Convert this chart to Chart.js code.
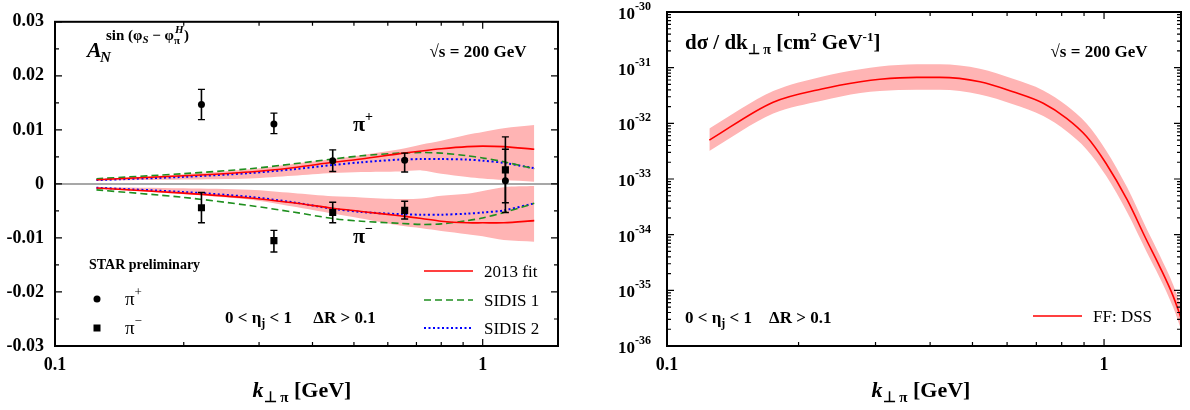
<!DOCTYPE html>
<html>
<head>
<meta charset="utf-8">
<script src="https://cdn.jsdelivr.net/npm/chart.js@4.4.1/dist/chart.umd.min.js"></script>
<style>
  html, body { margin: 0; padding: 0; background: #fff; }
  #wrap { position: relative; width: 1190px; height: 410px; }
  canvas { position: absolute; top: 0; }
</style>
</head>
<body>
<div id="wrap">
  <canvas id="left" width="595" height="410" style="left:0"></canvas>
  <canvas id="right" width="595" height="410" style="left:595px"></canvas>
</div>
<script>
const F = "'Liberation Serif', 'Times New Roman', serif";

// x ticks shared by both panels (log axis)
const kTicks = [0.1, 0.2, 0.3, 0.4, 0.5, 0.6, 0.7, 0.8, 0.9, 1];
const asymTicks = [-0.03, -0.025, -0.02, -0.015, -0.01, -0.005, 0, 0.005, 0.01, 0.015, 0.02, 0.025, 0.03];

// left panel: model curves
const kCurve      = [0.125, 0.2, 0.285, 0.36, 0.446, 0.52, 0.64, 0.72, 0.8, 0.92, 1.0, 1.12, 1.32];
const fitPlus     = [0.00077, 0.0015, 0.0022, 0.0030, 0.0040, 0.0046, 0.0056, 0.0061, 0.0065, 0.0069, 0.0070, 0.0069, 0.0064];
const sidis1Plus  = [0.00095, 0.0019, 0.0028, 0.0037, 0.0046, 0.0052, 0.0057, 0.0058, 0.0057, 0.0052, 0.0048, 0.0041, 0.0028];
const sidis2Plus  = [0.0007, 0.0013, 0.0020, 0.0027, 0.0035, 0.0040, 0.0045, 0.0046, 0.0046, 0.0045, 0.0043, 0.0039, 0.0029];
const fitMinus    = [-0.00077, -0.0017, -0.0026, -0.0035, -0.0045, -0.0051, -0.0059, -0.0064, -0.0069, -0.0072, -0.0072, -0.0072, -0.0068];
const sidis1Minus = [-0.0011, -0.0025, -0.0040, -0.0052, -0.0064, -0.0069, -0.0073, -0.0075, -0.0074, -0.0068, -0.0063, -0.0053, -0.0036];
const sidis2Minus = [-0.0007, -0.0015, -0.0024, -0.0034, -0.0046, -0.0052, -0.0056, -0.0057, -0.0057, -0.0055, -0.0053, -0.0049, -0.0036];
const bandPlusHi  = [0.0009, 0.0018, 0.0027, 0.0037, 0.0046, 0.0053, 0.0064, 0.0073, 0.0080, 0.0091, 0.0096, 0.0103, 0.0109];
const bandPlusLo  = [0.0006, 0.0008, 0.0010, 0.0015, 0.0020, 0.0022, 0.0023, 0.0025, 0.0019, 0.0013, 0.0010, 0.0007, 0.0004];
const bandMinusHi = [-0.0006, -0.0008, -0.0011, -0.0017, -0.0023, -0.0025, -0.0028, -0.0027, -0.0022, -0.0018, -0.0013, -0.0006, -0.0004];
const bandMinusLo = [-0.0009, -0.0019, -0.0029, -0.0042, -0.0055, -0.0064, -0.0077, -0.0082, -0.0087, -0.0093, -0.0097, -0.0104, -0.0107];

// left panel: STAR preliminary points
const kStar    = [0.22, 0.325, 0.446, 0.657, 1.13];
const aPlus    = [0.0147, 0.0111, 0.0043, 0.0044, 0.0006];
const aPlusLo  = [0.0119, 0.0093, 0.0023, 0.0022, -0.0053];
const aPlusHi  = [0.0175, 0.0131, 0.0063, 0.0057, 0.0087];
const aMinus   = [-0.0044, -0.0105, -0.0053, -0.0049, 0.0026];
const aMinusLo = [-0.0072, -0.0126, -0.0072, -0.0065, -0.0035];
const aMinusHi = [-0.0016, -0.0086, -0.0034, -0.0032, 0.0064];

// right panel: cross section with DSS fragmentation functions
const kXsec   = [0.125, 0.175, 0.226, 0.277, 0.307, 0.373, 0.421, 0.52, 0.619, 0.726, 0.821, 0.912, 1.01, 1.13, 1.25, 1.34, 1.44, 1.5];
const xsecDSS = [5.0e-33, 2.4e-32, 4.15e-32, 5.6e-32, 6.2e-32, 6.7e-32, 6.7e-32, 5.6e-32, 3.7e-32, 2.3e-32, 1.23e-32, 5.8e-33, 1.92e-33, 4.2e-34, 8.1e-35, 2.7e-35, 7.8e-36, 3.2e-36];
const xsecHi  = [8.1e-33, 3.8e-32, 6.9e-32, 9.4e-32, 1.05e-31, 1.15e-31, 1.15e-31, 9.6e-32, 6.3e-32, 3.9e-32, 2.1e-32, 9.9e-33, 3.3e-33, 7.0e-34, 1.3e-34, 4.3e-35, 1.25e-35, 5.2e-36];
const xsecLo  = [3.2e-33, 1.5e-32, 2.55e-32, 3.5e-32, 3.8e-32, 4.0e-32, 4.0e-32, 3.3e-32, 2.2e-32, 1.35e-32, 7.2e-33, 3.4e-33, 1.15e-33, 2.5e-34, 5.0e-35, 1.7e-35, 4.9e-36, 2.0e-36];

const pts = (xs, ys) => xs.map((x, i) => ({ x: x, y: ys[i] }));
const errPts = (xs, lo, hi) => xs.flatMap((x, i) => [{ x: x, y: lo[i] }, { x: x, y: hi[i] }, { x: x, y: null }]);

const RED = "#ff0000", GREEN = "#1f8f1f", BLUE = "#0000ff", BAND = "#ffb4b4";

// rich text: parts = [text, font, dy]
function rich(ctx, parts, x, y, align) {
  let w = 0;
  parts.forEach(p => { ctx.font = p[1]; w += ctx.measureText(p[0]).width; });
  let cx = align === "center" ? x - w / 2 : align === "right" ? x - w : x;
  ctx.textAlign = "left";
  ctx.textBaseline = "alphabetic";
  parts.forEach(p => {
    ctx.font = p[1];
    ctx.fillText(p[0], cx, y + (p[2] || 0));
    cx += ctx.measureText(p[0]).width;
  });
  return cx;
}

function frame(chart, xMarks, yMarks) {
  const { ctx, chartArea: a, scales } = chart;
  ctx.save();
  ctx.strokeStyle = "#000";
  ctx.lineWidth = 1.2;
  ctx.beginPath();
  xMarks.forEach(m => {
    const px = scales.x.getPixelForValue(m.v);
    const len = m.major ? 7 : 4;
    ctx.moveTo(px, a.bottom); ctx.lineTo(px, a.bottom - len);
    ctx.moveTo(px, a.top); ctx.lineTo(px, a.top + len);
  });
  yMarks.forEach(m => {
    const py = scales.y.getPixelForValue(m.v);
    const len = m.major ? 7 : 4;
    ctx.moveTo(a.left, py); ctx.lineTo(a.left + len, py);
    ctx.moveTo(a.right, py); ctx.lineTo(a.right - len, py);
  });
  ctx.stroke();
  ctx.lineWidth = 2;
  ctx.strokeRect(a.left, a.top, a.right - a.left, a.bottom - a.top);
  ctx.restore();
}

function legendLine(ctx, x1, x2, y, color, dash, width) {
  ctx.save();
  ctx.strokeStyle = color;
  ctx.lineWidth = width;
  ctx.setLineDash(dash);
  ctx.beginPath();
  ctx.moveTo(x1, y); ctx.lineTo(x2, y);
  ctx.stroke();
  ctx.restore();
}

function xTitle(ctx, x, y) {
  rich(ctx, [["k", "italic bold 22px " + F, 0], ["\u22A5 \u03C0", "bold 15px " + F, 5], [" [GeV]", "bold 22px " + F, 0]], x, y, "center");
}

const xMarks = kTicks.map(v => ({ v: v, major: v === 0.1 || v === 1 }));

const leftDecor = {
  id: "leftDecor",
  afterDraw(chart) {
    const ctx = chart.ctx;
    frame(chart, xMarks, asymTicks.map(v => ({ v: v, major: Math.abs(Math.round(v * 1000)) % 10 === 0 })));
    ctx.save();
    ctx.fillStyle = "#000";
    // A_N^{sin(phi_S - phi_pi^H)}
    rich(ctx, [["A", "italic bold 22px " + F, 0]], 87, 57);
    rich(ctx, [["N", "italic bold 15px " + F, 0]], 100, 62);
    let cx = rich(ctx, [["sin (\u03C6", "bold 15px " + F, 0], ["S", "italic bold 11px " + F, 3], [" \u2212 \u03C6", "bold 15px " + F, 0]], 106, 40);
    rich(ctx, [["\u03C0", "bold 11px " + F, 0]], cx, 44);
    rich(ctx, [["H", "italic bold 11px " + F, 0]], cx + 1, 33);
    rich(ctx, [[")", "bold 15px " + F, 0]], cx + 10, 40);
    rich(ctx, [["\u221As = 200 GeV", "bold 17px " + F, 0]], 478, 57, "center");
    // curve labels
    rich(ctx, [["\u03C0", "bold 22px " + F, 0], ["+", "bold 14px " + F, -10]], 353, 131);
    rich(ctx, [["\u03C0", "bold 22px " + F, 0], ["\u2212", "bold 14px " + F, -10]], 353, 243);
    // data legend
    rich(ctx, [["STAR preliminary", "bold 14px " + F, 0]], 89, 269);
    ctx.beginPath(); ctx.arc(97, 299, 3.5, 0, Math.PI * 2); ctx.fill();
    ctx.fillRect(93.5, 324.5, 7, 7);
    rich(ctx, [["\u03C0", "19px " + F, 0], ["+", "13px " + F, -9]], 125, 305);
    rich(ctx, [["\u03C0", "19px " + F, 0], ["\u2212", "13px " + F, -9]], 125, 334);
    rich(ctx, [["0 < \u03B7", "bold 17px " + F, 0], ["j", "bold 12px " + F, 4], [" < 1     \u0394R > 0.1", "bold 17px " + F, 0]], 225, 323);
    // model legend
    legendLine(ctx, 424, 473, 271, RED, [], 1.6);
    legendLine(ctx, 424, 473, 300, GREEN, [7, 4], 1.6);
    legendLine(ctx, 424, 473, 328, BLUE, [2, 2.5], 2);
    rich(ctx, [["2013 fit", "17px " + F, 0]], 484, 277);
    rich(ctx, [["SIDIS 1", "17px " + F, 0]], 484, 306);
    rich(ctx, [["SIDIS 2", "17px " + F, 0]], 484, 334);
    xTitle(ctx, 302, 397);
    ctx.restore();
  }
};

const decadeMarks = [];
for (let n = -36; n <= -31; n++) {
  for (let k = 1; k <= 9; k++) decadeMarks.push({ v: k * Math.pow(10, n), major: k === 1 });
}
decadeMarks.push({ v: 1e-30, major: true });

const rightDecor = {
  id: "rightDecor",
  afterDraw(chart) {
    const ctx = chart.ctx;
    frame(chart, xMarks, decadeMarks);
    ctx.save();
    ctx.fillStyle = "#000";
    const ys = chart.scales.y;
    for (let n = -36; n <= -30; n++) {
      const py = ys.getPixelForValue(Math.pow(10, n));
      rich(ctx, [["10", "bold 17px " + F, 0], [String(n), "bold 12px " + F, -9]], 56, py + 7, "right");
    }
    rich(ctx, [["d\u03C3 / dk", "bold 21px " + F, 0], ["\u22A5 \u03C0", "bold 14px " + F, 5], [" [cm", "bold 21px " + F, 0],
      ["2", "bold 13px " + F, -8], [" GeV", "bold 21px " + F, 0], ["-1", "bold 13px " + F, -8], ["]", "bold 21px " + F, 0]], 90, 49);
    rich(ctx, [["\u221As = 200 GeV", "bold 17px " + F, 0]], 504, 57, "center");
    rich(ctx, [["0 < \u03B7", "bold 17px " + F, 0], ["j", "bold 12px " + F, 4], [" < 1    \u0394R > 0.1", "bold 17px " + F, 0]], 90, 323);
    legendLine(ctx, 438, 487, 316, RED, [], 1.6);
    rich(ctx, [["FF: DSS", "17px " + F, 0]], 498, 322);
    xTitle(ctx, 326, 397);
    ctx.restore();
  }
};

const xAxis = {
  type: "logarithmic",
  min: 0.1,
  max: 1.5,
  afterBuildTicks: s => { s.ticks = kTicks.map(v => ({ value: v })); },
  afterFit: s => { s.height = 64; },
  grid: { display: false, drawTicks: false },
  border: { display: false },
  ticks: {
    autoSkip: false,
    maxRotation: 0,
    padding: 9,
    color: "#000",
    font: { family: F, size: 18, weight: "bold" },
    callback: v => (Math.abs(v - 0.1) < 1e-9 ? "0.1" : Math.abs(v - 1) < 1e-9 ? "1" : "")
  }
};

const curve = (label, ys, color, dash, width) => ({
  label: label, data: pts(kCurve, ys), borderColor: color, borderDash: dash, borderWidth: width,
  pointRadius: 0, fill: false, tension: 0.3, order: 2
});

new Chart(document.getElementById("left"), {
  type: "line",
  data: {
    datasets: [
      { label: "pi+", data: pts(kStar, aPlus), showLine: false, pointStyle: "circle", pointRadius: 3.5, pointBackgroundColor: "#000", pointBorderWidth: 0, order: 0 },
      { label: "pi-", data: pts(kStar, aMinus), showLine: false, pointStyle: "rect", pointRadius: 5, pointBackgroundColor: "#000", pointBorderWidth: 0, order: 0 },
      { label: "pi+ err", data: errPts(kStar, aPlusLo, aPlusHi), borderColor: "#000", borderWidth: 1.6, pointStyle: "line", pointRadius: 3.5, pointBorderColor: "#000", pointBorderWidth: 1.4, spanGaps: false, order: 1 },
      { label: "pi- err", data: errPts(kStar, aMinusLo, aMinusHi), borderColor: "#000", borderWidth: 1.6, pointStyle: "line", pointRadius: 3.5, pointBorderColor: "#000", pointBorderWidth: 1.4, spanGaps: false, order: 1 },
      curve("2013 fit +", fitPlus, RED, [], 1.6),
      curve("SIDIS 1 +", sidis1Plus, GREEN, [7, 4], 1.6),
      curve("SIDIS 2 +", sidis2Plus, BLUE, [2, 2.5], 2),
      curve("2013 fit -", fitMinus, RED, [], 1.6),
      curve("SIDIS 1 -", sidis1Minus, GREEN, [7, 4], 1.6),
      curve("SIDIS 2 -", sidis2Minus, BLUE, [2, 2.5], 2),
      { label: "zero", data: [{ x: 0.1, y: 0 }, { x: 1.5, y: 0 }], borderColor: "#8a8a8a", borderWidth: 1.5, pointRadius: 0, order: 3 },
      { label: "band+ hi", data: pts(kCurve, bandPlusHi), borderWidth: 0, pointRadius: 0, fill: false, tension: 0.3, order: 5 },
      { label: "band+ lo", data: pts(kCurve, bandPlusLo), borderWidth: 0, pointRadius: 0, fill: 11, backgroundColor: BAND, tension: 0.3, order: 5 },
      { label: "band- hi", data: pts(kCurve, bandMinusHi), borderWidth: 0, pointRadius: 0, fill: false, tension: 0.3, order: 5 },
      { label: "band- lo", data: pts(kCurve, bandMinusLo), borderWidth: 0, pointRadius: 0, fill: 13, backgroundColor: BAND, tension: 0.3, order: 5 }
    ]
  },
  options: {
    responsive: false,
    animation: false,
    devicePixelRatio: 1,
    layout: { padding: { left: 0, top: 12, right: 37, bottom: 0 } },
    plugins: { legend: { display: false }, tooltip: { enabled: false } },
    scales: {
      x: xAxis,
      y: {
        min: -0.03,
        max: 0.03,
        afterFit: s => { s.width = 55; },
        grid: { display: false, drawTicks: false },
        border: { display: false },
        ticks: {
          stepSize: 0.01,
          padding: 11,
          color: "#000",
          font: { family: F, size: 18, weight: "bold" },
          callback: v => (Math.abs(v) < 1e-9 ? "0" : v.toFixed(2))
        }
      }
    }
  },
  plugins: [leftDecor]
});

new Chart(document.getElementById("right"), {
  type: "line",
  data: {
    datasets: [
      { label: "FF: DSS", data: pts(kXsec, xsecDSS), borderColor: RED, borderWidth: 1.6, pointRadius: 0, fill: false, cubicInterpolationMode: "monotone", order: 0 },
      { label: "hi", data: pts(kXsec, xsecHi), borderWidth: 0, pointRadius: 0, fill: false, cubicInterpolationMode: "monotone", order: 1 },
      { label: "lo", data: pts(kXsec, xsecLo), borderWidth: 0, pointRadius: 0, fill: 1, backgroundColor: BAND, cubicInterpolationMode: "monotone", order: 1 }
    ]
  },
  options: {
    responsive: false,
    animation: false,
    devicePixelRatio: 1,
    layout: { padding: { left: 0, top: 12, right: 9, bottom: 0 } },
    plugins: { legend: { display: false }, tooltip: { enabled: false } },
    scales: {
      x: xAxis,
      y: {
        type: "logarithmic",
        min: 1e-36,
        max: 1e-30,
        afterBuildTicks: s => { s.ticks = decadeMarks.filter(m => m.major).map(m => ({ value: m.v })); },
        afterFit: s => { s.width = 72; },
        grid: { display: false, drawTicks: false },
        border: { display: false },
        ticks: { display: false }
      }
    }
  },
  plugins: [rightDecor]
});
</script>
</body>
</html>
